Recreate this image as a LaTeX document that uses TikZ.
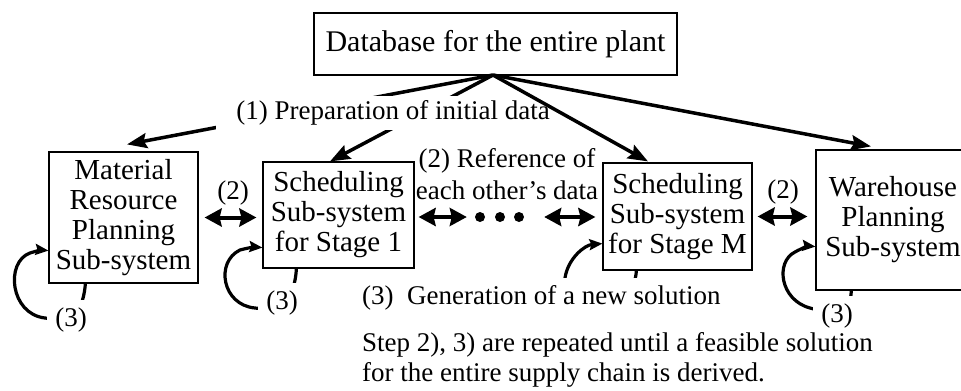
\documentclass[tikz,border=0pt]{standalone}
\usepackage{fontspec}
\setmainfont{Liberation Serif}
\usetikzlibrary{arrows.meta}
\begin{document}
\begin{tikzpicture}[x=1bp,y=-1bp,
  box/.style={draw, line width=1.2bp, inner sep=0pt, align=center, font=\fontsize{29bp}{30bp}\selectfont},
  lbl/.style={inner sep=0pt, font=\fontsize{27bp}{30bp}\selectfont},
  feed/.style={line width=3.5bp, -{Stealth[length=20bp,width=15bp,inset=3bp]}},
  refarr/.style={line width=4bp, {Stealth[length=17bp,width=18bp,inset=2bp]}-{Stealth[length=17bp,width=18bp,inset=2bp]}},
  looparr/.style={line width=3.2bp, -{Stealth[length=13bp,width=11bp,inset=2bp]}},
  mask/.style={fill=white, inner sep=8bp},
  dot/.style={circle, fill=black, inner sep=0pt, minimum size=10bp},
]
\useasboundingbox (0,0) rectangle (961,390);
\clip (0,0) rectangle (961,390);

% boxes
\node[box, line width=1.8bp, minimum width=363bp, minimum height=62bp,
      font=\fontsize{30bp}{30bp}\selectfont] (db) at (495.5,44) {Database for the entire plant};
\node[box, minimum width=149bp, minimum height=131bp] (mrp) at (123.5,217.5) {Material\\Resource\\Planning\\Sub-system};
\node[box, minimum width=151bp, minimum height=106bp] (s1) at (338.5,215) {Scheduling\\Sub-system\\for Stage 1};
\node[box, minimum width=149bp, minimum height=107bp] (sm) at (677.5,216.5) {Scheduling\\Sub-system\\for Stage M};
\node[box, minimum width=154bp, minimum height=140bp] (wh) at (893,220) {Warehouse\\Planning\\Sub-system};

\coordinate (apex) at (493,75);

% feed arrows (first two partly hidden by the label)
\draw[feed] (apex) -- ([xshift=3.5bp,yshift=7bp]mrp.north);
\draw[feed] (apex) -- ([xshift=-8.5bp]s1.north);
\node[lbl, fill=white, inner xsep=20bp, inner ysep=5bp] (prep) at (393,113) {(1) Preparation of initial data};
\draw[feed] (apex) -- ([xshift=-29.5bp,yshift=1bp]sm.north);
\draw[feed] (apex) -- ([xshift=-22bp,yshift=3bp]wh.north);

% reference arrows
\node[lbl] (r1) at (233,193) {(2)};
\node[lbl] (r3) at (783,192) {(2)};
\node[lbl, align=center, font=\fontsize{27bp}{32bp}\selectfont] (refl) at (507,174) {(2) Reference of\\each other’s data};
\node[dot] (d1) at (480,217) {};
\node[dot] (d2) at (500,217) {};
\node[dot] (d3) at (519,217) {};
\draw[refarr] ([xshift=6bp]mrp.east) -- ([xshift=-6bp]mrp.east -| s1.west);
\draw[refarr, shorten <=4bp, shorten >=8bp] (s1.east |- d1) -- (d1.west);
\draw[refarr, shorten <=20bp, shorten >=7bp] (d3.east) -- (d3.east -| sm.west);
\draw[refarr, shorten <=5bp, shorten >=8bp] (sm.east) -- (sm.east -| wh.west);

% loops
\draw[looparr] ([xshift=37bp]mrp.south west) .. controls (82,325) and (60,320) .. (45,318)
   .. controls (10,314) and (5,262) .. (30,253) .. controls (36,251) and (42,250) .. ([yshift=33bp]mrp.south west);
\draw[looparr] ([xshift=34bp]s1.south west) .. controls (294,310) and (270,310) .. (255,308)
   .. controls (222,305) and (215,262) .. (240,250) .. controls (247,248) and (255,247) .. ([yshift=21bp]s1.south west);
\draw[looparr] ([xshift=34bp]sm.south west) .. controls (634,305) and (600,310) .. (580,305)
   .. controls (566,300) and (562,290) .. (565,278) .. controls (568,258) and (585,245) .. ([yshift=27bp]sm.south west);
\draw[looparr] ([xshift=36bp]wh.south west) .. controls (850,320) and (825,312) .. (810,308)
   .. controls (780,300) and (775,262) .. (795,252) .. controls (802,248) and (809,246) .. ([yshift=44bp]wh.south west);

\node[lbl, mask] (g1) at (71,320) {(3)};
\node[lbl, mask] (g2) at (282,303) {(3)};
\node[lbl, mask] (g4) at (837,316) {(3)};
\node[lbl, mask, anchor=west] (gen) at (354,298) {(3)\ \ Generation of a new solution};

\node[lbl, anchor=west, align=left] (step) at (362,360) {Step 2), 3) are repeated until a feasible solution\\for the entire supply chain is derived.};
\end{tikzpicture}
\end{document}
